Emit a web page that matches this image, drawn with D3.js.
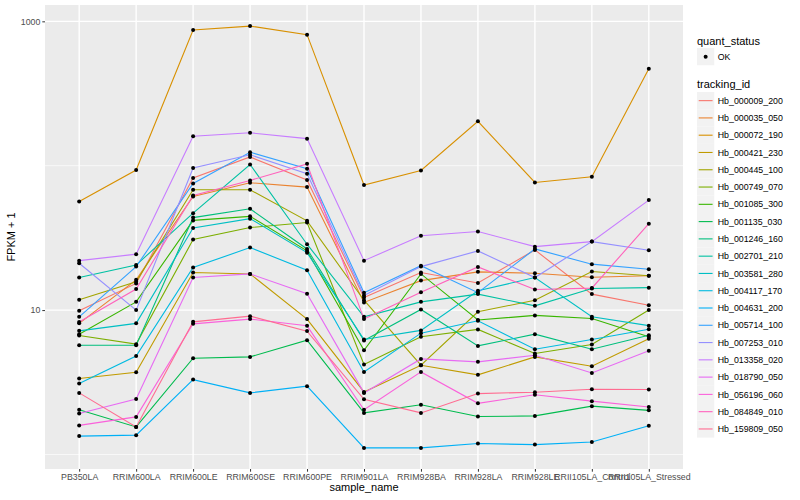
<!DOCTYPE html>
<html><head><meta charset="utf-8">
<script src="https://cdn.jsdelivr.net/npm/d3@7"></script>
<style>body{margin:0;background:#fff}svg{display:block}text{font-family:"Liberation Sans",Arial,Helvetica,sans-serif}</style>
</head><body>
<svg id="chart" width="800" height="500"></svg>
<script>
const samples = ["PB350LA","RRIM600LA","RRIM600LE","RRIM600SE","RRIM600PE","RRIM901LA","RRIM928BA","RRIM928LA","RRIM928LE","RRII105LA_Control","RRII105LA_Stressed"];
const trackingIds = ["Hb_000009_200","Hb_000035_050","Hb_000072_190","Hb_000421_230","Hb_000445_100","Hb_000749_070","Hb_001085_300","Hb_001135_030","Hb_001246_160","Hb_002701_210","Hb_003581_280","Hb_004117_170","Hb_004631_200","Hb_005714_100","Hb_007253_010","Hb_013358_020","Hb_018790_050","Hb_056196_060","Hb_084849_010","Hb_159809_050"];
// FPKM + 1, one row per tracking_id, one value per sample
const Hb_000009_200 = [9.89,15.3,82.2,115,79.6,12.2,18.2,15.4,26.1,12.9,10.8];
const Hb_000035_050 = [8.09,16.2,61.2,76.2,71.1,11.3,16.0,18.4,18.0,16.9,17.3];
const Hb_000072_190 = [56.5,93.3,871,927,809,73.5,92.7,203,76.6,83.9,470];
const Hb_000421_230 = [3.36,3.71,18.2,17.8,8.66,2.71,4.15,3.56,4.74,4.08,6.34];
const Hb_000445_100 = [11.8,15.7,68.1,68.1,41.5,11.7,4.15,9.73,11.7,18.5,17.3];
const Hb_000749_070 = [6.67,5.81,30.8,37.3,40.4,4.20,6.53,7.35,5.00,5.78,10.0];
const Hb_001085_300 = [6.81,11.4,41.8,44.6,25.7,5.27,17.8,8.53,9.19,8.75,6.53];
const Hb_001135_030 = [2.04,1.55,4.64,4.74,6.19,1.94,2.21,1.83,1.85,2.16,2.02];
const Hb_001246_160 = [5.71,5.71,43.7,50.3,26.5,6.16,10.1,5.65,6.81,5.36,6.70];
const Hb_002701_210 = [16.8,20.5,46.9,102,28.6,8.98,11.4,12.9,10.7,14.1,14.3];
const Hb_003581_280 = [7.18,8.09,37.1,43.0,25.0,6.26,7.23,13.6,16.8,8.98,7.80];
const Hb_004117_170 = [3.10,4.80,19.7,27.1,18.9,3.73,6.92,8.43,5.36,6.26,7.36];
const Hb_004631_200 = [1.34,1.36,3.30,2.67,2.97,1.11,1.11,1.19,1.17,1.22,1.58];
const Hb_005714_100 = [8.98,20.0,75.4,124,95.3,13.2,20.3,13.2,26.5,20.8,19.2];
const Hb_007253_010 = [21.1,10.0,96.4,119,88.0,12.6,20.0,25.7,16.8,29.8,26.0];
const Hb_013358_020 = [22.0,24.4,160,169,154,22.0,32.7,35.0,27.5,29.8,57.8];
const Hb_018790_050 = [1.92,2.42,16.8,17.8,13.0,2.67,4.59,4.38,4.87,3.67,5.22];
const Hb_056196_060 = [1.59,1.82,8.03,8.66,7.78,2.04,3.73,2.26,2.59,2.34,2.13];
const Hb_084849_010 = [8.26,14.0,62.2,79.1,103,8.66,13.3,19.9,13.9,14.2,39.7];
const Hb_159809_050 = [2.67,1.55,8.29,9.08,7.15,2.41,1.94,2.64,2.70,2.83,2.82];
const seriesValues = [Hb_000009_200,Hb_000035_050,Hb_000072_190,Hb_000421_230,Hb_000445_100,Hb_000749_070,Hb_001085_300,Hb_001135_030,Hb_001246_160,Hb_002701_210,Hb_003581_280,Hb_004117_170,Hb_004631_200,Hb_005714_100,Hb_007253_010,Hb_013358_020,Hb_018790_050,Hb_056196_060,Hb_084849_010,Hb_159809_050];
const quantStatus = ["OK"];
const yBreaks = [10, 1000];
const yMinorBreaks = [1, 100];
const palette = ["#F8766D","#EA8331","#D89000","#C09B00","#A3A500","#7CAE00","#39B600","#00BB4E","#00BF7D","#00C1A3","#00BFC4","#00BAE0","#00B0F6","#35A2FF","#9590FF","#C77CFF","#E76BF3","#FA62DB","#FF62BC","#FF6C91"];

const series = trackingIds.map((id,i)=>({id, color: palette[i], pts: samples.map((s,j)=>({s, v: seriesValues[i][j]}))}));

const svg = d3.select("#chart");
const P = {l:45, r:683, t:5, b:469};

// log scale with ggplot-like 5% expansion in log space
const allV = seriesValues.flat();
const lmin = Math.log10(d3.min(allV)), lmax = Math.log10(d3.max(allV));
const ex = (lmax-lmin)*0.05;
const y = d3.scaleLog().domain([Math.pow(10,lmin-ex), Math.pow(10,lmax+ex)]).range([P.b, P.t]);
const x = d3.scalePoint().domain(samples).range([P.l, P.r]).padding(0.6);

svg.append("rect").attr("x",P.l).attr("y",P.t).attr("width",P.r-P.l).attr("height",P.b-P.t).attr("fill","#EBEBEB");
const grid = svg.append("g");
yMinorBreaks.forEach(b=>grid.append("line").attr("x1",P.l).attr("x2",P.r).attr("y1",y(b)).attr("y2",y(b)).attr("stroke","#fff").attr("stroke-width",0.7));
yBreaks.forEach(b=>grid.append("line").attr("x1",P.l).attr("x2",P.r).attr("y1",y(b)).attr("y2",y(b)).attr("stroke","#fff").attr("stroke-width",1.4));
samples.forEach(s=>grid.append("line").attr("x1",x(s)).attr("x2",x(s)).attr("y1",P.t).attr("y2",P.b).attr("stroke","#fff").attr("stroke-width",1.4));

const line = d3.line().x(d=>x(d.s)).y(d=>y(d.v));
const gl = svg.append("g");
series.forEach(sr=>gl.append("path").attr("d",line(sr.pts)).attr("fill","none").attr("stroke",sr.color).attr("stroke-width",1.1));
const gp = svg.append("g");
series.forEach(sr=>sr.pts.forEach(p=>gp.append("circle").attr("cx",x(p.s)).attr("cy",y(p.v)).attr("r",2).attr("fill","#000")));

// axes
const ax = svg.append("g").attr("transform",`translate(0,${P.b})`).call(d3.axisBottom(x).tickSize(2.7).tickPadding(2));
ax.select(".domain").remove();
ax.selectAll("line").attr("stroke","#333");
ax.selectAll("text").attr("fill","#4D4D4D").style("font-size","8.8px");
const ay = svg.append("g").attr("transform",`translate(${P.l},0)`).call(d3.axisLeft(y).tickValues(yBreaks).tickFormat(d3.format("d")).tickSize(2.7).tickPadding(2));
ay.select(".domain").remove();
ay.selectAll("line").attr("stroke","#333");
ay.selectAll("text").attr("fill","#4D4D4D").style("font-size","8.8px");

svg.append("text").attr("x",(P.l+P.r)/2).attr("y",491).attr("text-anchor","middle").style("font-size","11px").text("sample_name");
svg.append("text").attr("transform",`translate(15,${(P.t+P.b)/2}) rotate(-90)`).attr("text-anchor","middle").style("font-size","11px").text("FPKM + 1");

// legends
const lg = svg.append("g");
const LX = 697, KS = 17.28;
lg.append("text").attr("x",LX).attr("y",44.5).style("font-size","11px").text("quant_status");
quantStatus.forEach((q,i)=>{
  const ky = 48 + i*KS;
  lg.append("rect").attr("x",LX).attr("y",ky).attr("width",KS).attr("height",KS).attr("fill","#F2F2F2");
  lg.append("circle").attr("cx",LX+KS/2).attr("cy",ky+KS/2).attr("r",2).attr("fill","#000");
  lg.append("text").attr("x",LX+KS+3.5).attr("y",ky+KS/2+3.1).style("font-size","8.8px").text(q);
});
lg.append("text").attr("x",LX).attr("y",87.5).style("font-size","11px").text("tracking_id");
series.forEach((sr,i)=>{
  const ky = 92 + i*KS;
  lg.append("rect").attr("x",LX).attr("y",ky).attr("width",KS).attr("height",KS).attr("fill","#F2F2F2");
  lg.append("line").attr("x1",LX+1.7).attr("x2",LX+KS-1.7).attr("y1",ky+KS/2).attr("y2",ky+KS/2).attr("stroke",sr.color).attr("stroke-width",1.1);
  lg.append("text").attr("x",LX+KS+3.5).attr("y",ky+KS/2+3.1).style("font-size","8.8px").text(sr.id);
});
</script>
</body></html>
